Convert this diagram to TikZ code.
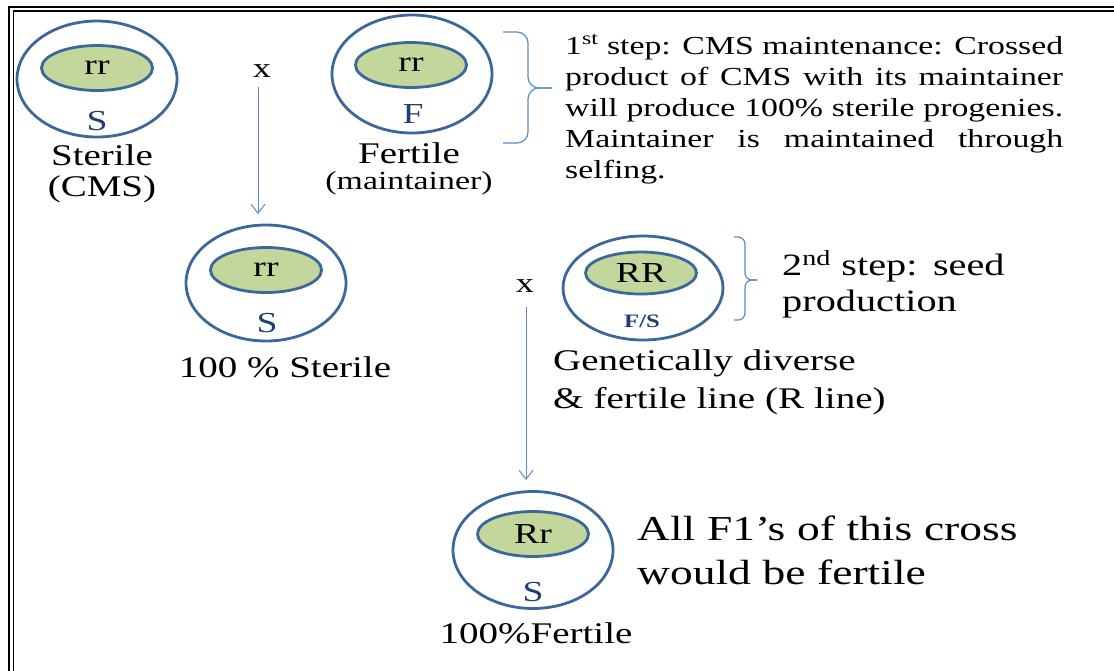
\documentclass[tikz,border=0pt]{standalone}
\usepackage{fontspec}
\setmainfont{Liberation Serif}[FakeStretch=1.3]
\usetikzlibrary{shapes.geometric,arrows.meta}
\definecolor{cellblue}{HTML}{3C679A}
\definecolor{genegreen}{HTML}{C3D69B}
\definecolor{lineblue}{HTML}{5B8BC8}
\definecolor{cytoblue}{HTML}{1F3D7A}
\tikzset{
  CellStyle/.style = { ellipse, draw = cellblue, line width = 2.8pt,
                       minimum width = 160pt, minimum height = 116pt, inner sep = 0pt },
  GeneStyle/.style = { ellipse, draw = cellblue, fill = genegreen, line width = 2.8pt,
                       minimum width = 111pt, minimum height = 45pt, inner sep = 0pt,
                       font = \fontsize{29}{30}\selectfont },
  CytoStyle/.style = { text = cytoblue, inner sep = 0pt,
                       font = \fontsize{29}{30}\selectfont },
  LabelStyle/.style = { anchor = base, inner sep = 0pt,
                       font = \fontsize{30}{36}\selectfont },
  NoteStyle/.style = { anchor = base west, inner sep = 0pt, align = left },
  ArrowStyle/.style = { draw = lineblue, line width = 1pt,
                       -{Straight Barb[length=9pt,width=14pt]} },
  BraceStyle/.style = { draw = lineblue, line width = 1.2pt } }
\begin{document}
\begin{tikzpicture}[x=1pt,y=-1pt]
  \useasboundingbox (0,0) rectangle (1114,670);
  \clip (0,0) rectangle (1114,670);
  \draw[line width=2.6pt] (9,7) rectangle (1140,700);
  \draw[line width=1.2pt] (13.5,11) rectangle (1136,696);

  \node[CellStyle] (cms) at (97,79) {};
  \node[GeneStyle] (cmsgene) at (97,68) {rr};
  \node[CytoStyle] (cmscyto) at (97,121) {S};
  \node[LabelStyle] (cmsname) at (102,165) {Sterile};
  \node[LabelStyle] (cmsnameb) at (102,196) {(CMS)};

  \node[LabelStyle, font = \fontsize{28}{30}\selectfont] (crossa) at (262,77) {x};

  \node[CellStyle, minimum height = 118pt] (maint) at (412,74) {};
  \node[GeneStyle] (maintgene) at (411,65) {rr};
  \node[CytoStyle] (maintcyto) at (413,114) {F};
  \node[LabelStyle] (maintname) at (409,163) {Fertile};
  \node[LabelStyle, font = \fontsize{26}{30}\selectfont] (maintnameb) at (409,189) {(maintainer)};

  \draw[BraceStyle, rounded corners=11pt] (503,32) -- (528,32) -- (528,88) -- (552,88);
  \draw[BraceStyle, rounded corners=11pt] (503,143) -- (528,143) -- (528,88) -- (552,88);
  \node[NoteStyle, text width = 498pt, align = justify,
        font = \fontsize{26}{31}\selectfont] (stepa) at (565,54)
    {1\textsuperscript{st} step: CMS maintenance: Crossed\linebreak
     product of CMS with its maintainer\linebreak
     will produce 100\% sterile progenies.\linebreak
     Maintainer is maintained through\linebreak
     selfing.};

  \coordinate (arra) at (258,87);
  \coordinate (arrb) at (258,214);
  \draw[ArrowStyle] (arra) -- (arrb);

  \node[CellStyle] (ster) at (266,283) {};
  \node[GeneStyle] (stergene) at (266,270) {rr};
  \node[CytoStyle] (stercyto) at (267,323) {S};
  \node[LabelStyle] (stername) at (285,377) {100 \% Sterile};

  \node[LabelStyle, font = \fontsize{28}{30}\selectfont] (crossb) at (525,292) {x};

  \node[CellStyle, minimum height = 104pt] (rline) at (643,288) {};
  \node[GeneStyle, minimum height = 42pt] (rlinegene) at (641,273) {RR};
  \node[CytoStyle, font = \bfseries\fontsize{19}{22}\selectfont] (rlinecyto) at (642,321) {F/S};
  \node[NoteStyle, text width = 360pt,
        font = \fontsize{30}{38}\selectfont] (rlinename) at (553,370)
    {Genetically diverse\\ \& fertile line (R line)};

  \draw[BraceStyle, rounded corners=7pt] (734,237) -- (745,237) -- (745,280) -- (757,280);
  \draw[BraceStyle, rounded corners=7pt] (734,320) -- (745,320) -- (745,280) -- (757,280);
  \node[NoteStyle, text width = 300pt,
        font = \fontsize{31}{36}\selectfont] (stepb) at (782,275)
    {2\textsuperscript{nd} step: seed\\ production};

  \coordinate (arrc) at (526,307);
  \coordinate (arrd) at (526,480);
  \draw[ArrowStyle] (arrc) -- (arrd);

  \node[CellStyle, minimum height = 117pt] (hybrid) at (533,550) {};
  \node[GeneStyle] (hybridgene) at (533,534) {Rr};
  \node[CytoStyle] (hybridcyto) at (533,592) {S};
  \node[LabelStyle] (hybridname) at (536,643) {100\%Fertile};
  \node[NoteStyle, text width = 460pt,
        font = \fontsize{35}{44}\selectfont] (hybridnote) at (637,540)
    {All F1’s of this cross\\ would be fertile};
\end{tikzpicture}
\end{document}
